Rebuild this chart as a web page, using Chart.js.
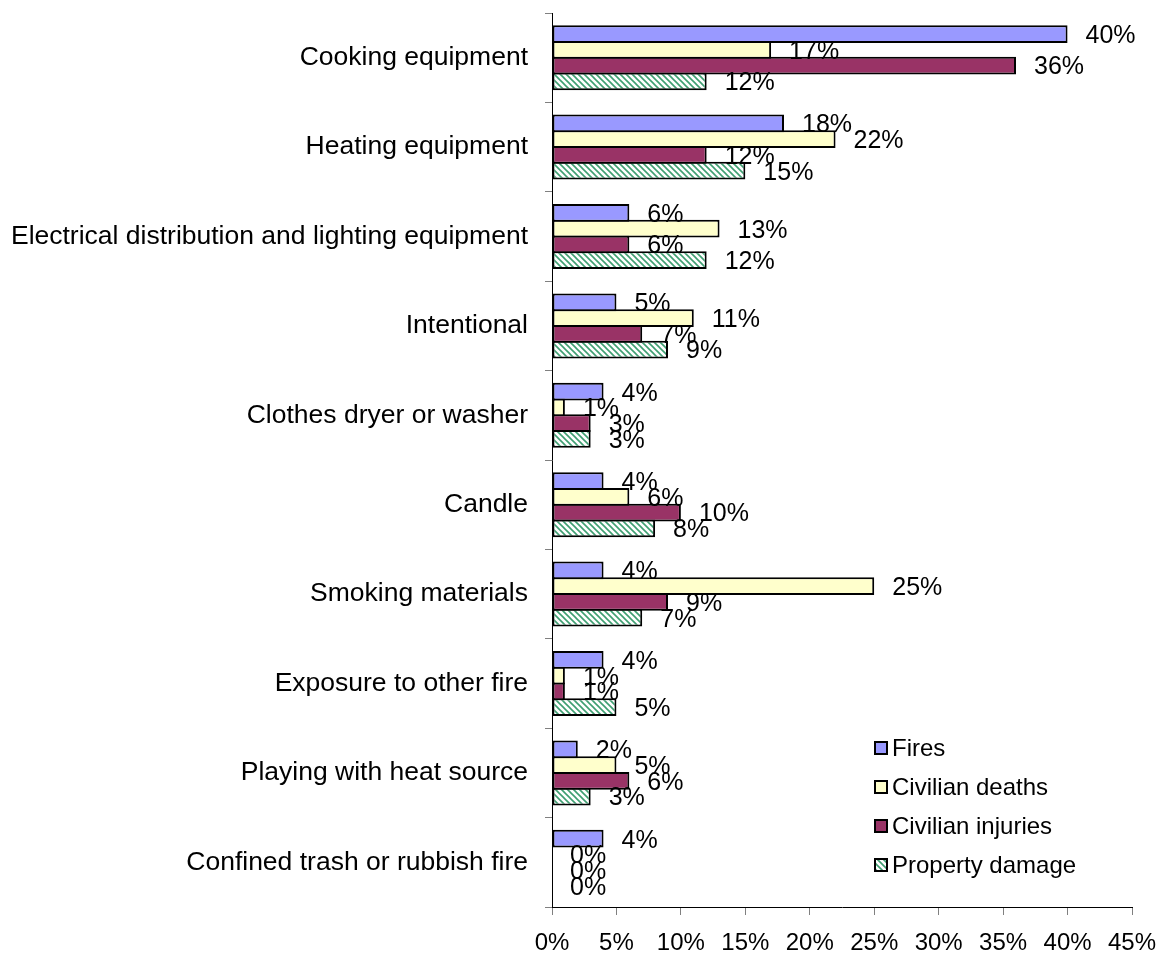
<!DOCTYPE html>
<html>
<head>
<meta charset="utf-8">
<script src="https://cdn.jsdelivr.net/npm/chart.js@4"></script>
<style>
  html, body { margin: 0; padding: 0; background: #fff; }
  #wrap { width: 1161px; height: 958px; }
</style>
</head>
<body>
<div id="wrap"><canvas id="chart_causes"></canvas></div>
<script>
var categories = [
  'Cooking equipment',
  'Heating equipment',
  'Electrical distribution and lighting equipment',
  'Intentional',
  'Clothes dryer or washer',
  'Candle',
  'Smoking materials',
  'Exposure to other fire',
  'Playing with heat source',
  'Confined trash or rubbish fire'
];
var fires = [40, 18, 6, 5, 4, 4, 4, 4, 2, 4];
var civilian_deaths = [17, 22, 13, 11, 1, 6, 25, 1, 5, 0];
var civilian_injuries = [36, 12, 6, 7, 3, 10, 9, 1, 6, 0];
var property_damage = [12, 15, 12, 9, 3, 8, 7, 5, 3, 0];
var x_ticks = [0, 5, 10, 15, 20, 25, 30, 35, 40, 45];

var font_family = '"Liberation Sans", Arial, sans-serif';
var cat_font_size = 26.5;
var x_font_size = 24;
var value_font_size = 25;
var legend_font_size = 24;

// green diagonal hatch on white, like the Excel fill
function make_hatch() {
  var c = document.createElement('canvas');
  c.width = 6; c.height = 6;
  var g = c.getContext('2d');
  g.fillStyle = '#ffffff';
  g.fillRect(0, 0, 6, 6);
  g.strokeStyle = '#3f9f72';
  g.lineWidth = 1.6;
  g.beginPath();
  g.moveTo(-1, -1); g.lineTo(7, 7);
  g.moveTo(-4, 2); g.lineTo(4, 10);
  g.moveTo(2, -4); g.lineTo(10, 4);
  g.stroke();
  return g.createPattern(c, 'repeat');
}
var hatch = make_hatch();

var value_labels = {
  id: 'value_labels',
  afterDatasetsDraw: function (chart) {
    var ctx = chart.ctx;
    ctx.save();
    ctx.font = value_font_size + 'px ' + font_family;
    ctx.fillStyle = '#000';
    ctx.textAlign = 'left';
    ctx.textBaseline = 'middle';
    chart.data.datasets.forEach(function (ds, i) {
      chart.getDatasetMeta(i).data.forEach(function (bar, j) {
        ctx.fillText(ds.data[j] + '%', bar.x + 18, bar.y + 2);
      });
    });
    ctx.restore();
  }
};

var inner_legend = {
  id: 'inner_legend',
  afterDraw: function (chart) {
    var ctx = chart.ctx;
    var x = 875, y = 748, step = 39;
    ctx.save();
    ctx.font = legend_font_size + 'px ' + font_family;
    ctx.textBaseline = 'middle';
    ctx.textAlign = 'left';
    chart.data.datasets.forEach(function (ds, i) {
      var yy = y + i * step;
      ctx.fillStyle = ds.backgroundColor;
      ctx.fillRect(x, yy - 6, 12, 12);
      ctx.lineWidth = 2;
      ctx.strokeStyle = '#000';
      ctx.strokeRect(x, yy - 6, 12, 12);
      ctx.fillStyle = '#000';
      ctx.fillText(ds.label, x + 17, yy + 1);
    });
    ctx.restore();
  }
};

function make_chart() {
  var ctx = document.getElementById('chart_causes').getContext('2d');
  // bars slightly wider than their slot so neighbouring borders overlap into one line
  var common = { borderColor: '#000', borderWidth: 2, borderSkipped: false,
                 categoryPercentage: 0.705, barPercentage: 1.127 };

  new Chart(ctx, {
    type: 'bar',
    data: {
      labels: categories,
      datasets: [
        Object.assign({ label: 'Fires', data: fires, backgroundColor: '#9999ff' }, common),
        Object.assign({ label: 'Civilian deaths', data: civilian_deaths, backgroundColor: '#ffffcc' }, common),
        Object.assign({ label: 'Civilian injuries', data: civilian_injuries, backgroundColor: '#993366' }, common),
        Object.assign({ label: 'Property damage', data: property_damage, backgroundColor: hatch }, common)
      ]
    },
    options: {
      indexAxis: 'y',
      responsive: true,
      maintainAspectRatio: false,
      animation: false,
      layout: { padding: { top: 13, right: 29, left: 0, bottom: 0 } },
      plugins: { legend: { display: false }, tooltip: { enabled: false } },
      scales: {
        x: {
          min: 0, max: 45,
          afterBuildTicks: function (s) { s.ticks = x_ticks.map(function (v) { return { value: v }; }); },
          ticks: {
            color: '#000',
            font: { family: font_family, size: x_font_size },
            padding: 14,
            maxRotation: 0,
            callback: function (v) { return v + '%'; }
          },
          grid: { drawOnChartArea: false, tickLength: 8, tickColor: '#808080' },
          border: { color: '#000', width: 1 },
          afterFit: function (s) { s.height = 51; s.paddingLeft = 0; s.paddingRight = 0; }
        },
        y: {
          ticks: {
            color: '#000',
            font: { family: font_family, size: cat_font_size },
            padding: 17
          },
          grid: { drawOnChartArea: false, offset: true, tickLength: 7, tickColor: '#808080' },
          border: { color: '#000', width: 1 },
          afterFit: function (s) { s.width = 552; s.paddingTop = 0; s.paddingBottom = 0; }
        }
      }
    },
    plugins: [value_labels, inner_legend]
  });
}

make_chart();
</script>
</body>
</html>
